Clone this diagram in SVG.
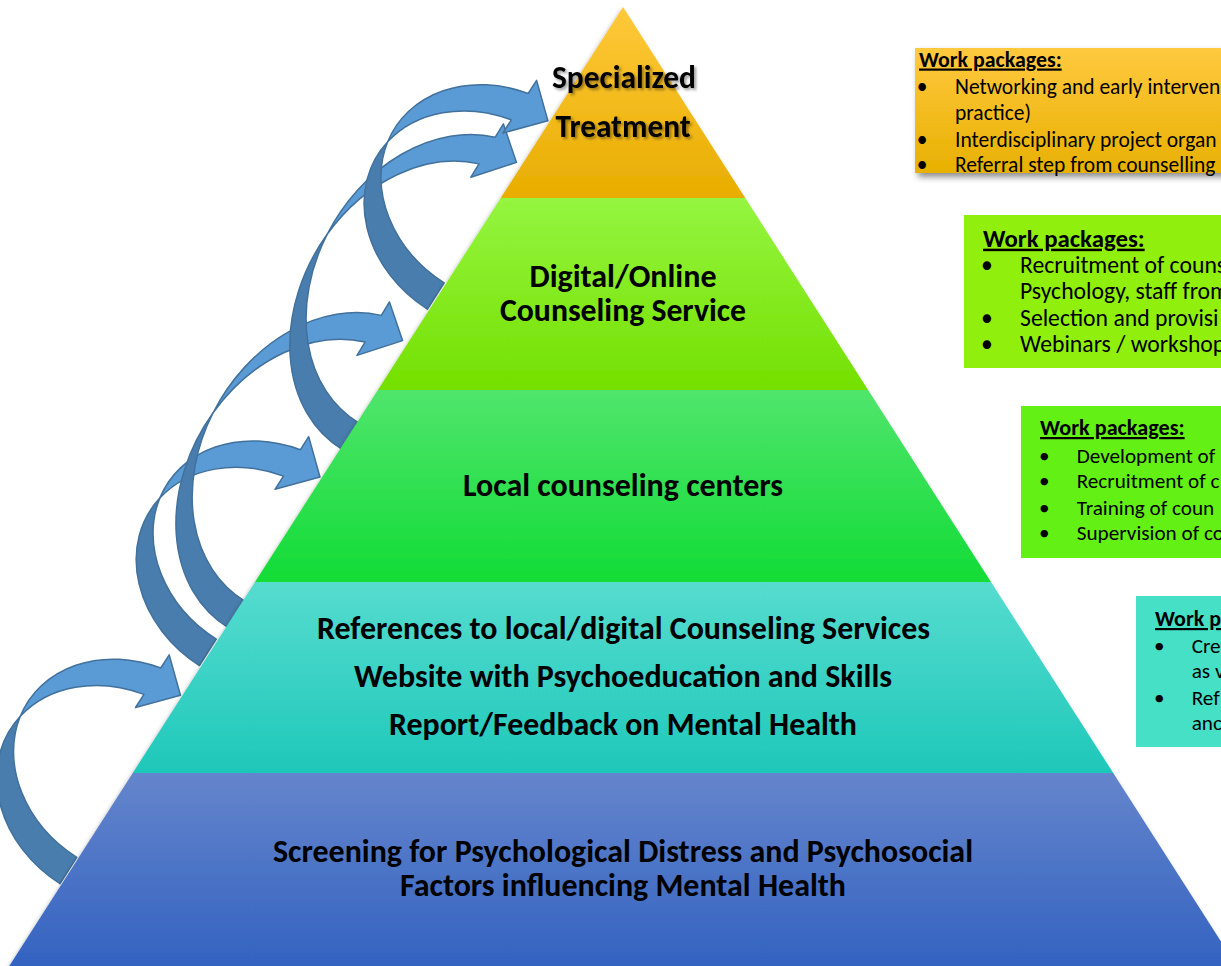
<svg xmlns="http://www.w3.org/2000/svg" xmlns:xlink="http://www.w3.org/1999/xlink" width="1221" height="966" viewBox="0 0 1221 966">
<style>
.dark{fill:#497DAD;stroke:#41719C;stroke-width:1.5;stroke-linejoin:round}
.light{fill:#5B9BD5;stroke:#41719C;stroke-width:1.5;stroke-linejoin:round}
.lvl{font-family:Carlito,Lato,sans-serif;font-weight:700;font-size:31.5px;text-anchor:middle;fill:#000}
.wp{font-family:Carlito,Lato,sans-serif;font-size:21.5px;fill:#000}
.wpt{font-weight:700;text-decoration:underline}
.bul{text-anchor:middle}
.s24{font-size:23.7px}
.s21{font-size:21.2px}
</style>
<defs>
<linearGradient id="gOr" x1="0" y1="0" x2="0" y2="1"><stop offset="0" stop-color="#FFC93A"/><stop offset="1" stop-color="#E8AD00"/></linearGradient>
<linearGradient id="gBox1" x1="0" y1="0" x2="0" y2="1"><stop offset="0" stop-color="#FFC940"/><stop offset="1" stop-color="#E8B000"/></linearGradient>
<linearGradient id="gG2" x1="0" y1="0" x2="0" y2="1"><stop offset="0" stop-color="#95F540"/><stop offset="1" stop-color="#74E000"/></linearGradient>
<linearGradient id="gG3" x1="0" y1="0" x2="0" y2="1"><stop offset="0" stop-color="#50E56C"/><stop offset="1" stop-color="#12DC36"/></linearGradient>
<linearGradient id="gTe" x1="0" y1="0" x2="0" y2="1"><stop offset="0" stop-color="#56DCCF"/><stop offset="1" stop-color="#1EC8BA"/></linearGradient>
<linearGradient id="gBl" x1="0" y1="0" x2="0" y2="1"><stop offset="0" stop-color="#6585CC"/><stop offset="1" stop-color="#3262C0"/></linearGradient>
<filter id="pyrShadow" x="-10%" y="-10%" width="120%" height="120%"><feDropShadow dx="-1" dy="2" stdDeviation="2" flood-color="#000" flood-opacity="0.3"/></filter>
<filter id="boxShadow" x="-10%" y="-20%" width="130%" height="150%"><feDropShadow dx="3" dy="4" stdDeviation="3" flood-color="#000" flood-opacity="0.45"/></filter>
<filter id="txtShadow" x="-10%" y="-30%" width="120%" height="160%"><feDropShadow dx="2" dy="2" stdDeviation="1.5" flood-color="#000" flood-opacity="0.4"/></filter>
<g id="arrS">
<path class="dark" d="M -123.58 135.31 A 125 104.06 0 0 0 0 255 L 0 223.75 A 125 104.06 0 0 1 -123.58 135.31 Z"/>
<path class="light" d="M -123.58 135.31 A 125 104.06 0 0 1 -31.25 18.93 L -31.25 3.3 L 0 31.25 L -31.25 65.8 L -31.25 50.18 A 125 104.06 0 0 0 -123.58 135.31 Z"/>
</g>
<g id="arrL">
<path class="dark" d="M -124.40 191.31 A 125 160.06 0 0 0 0 367 L 0 335.75 A 125 160.06 0 0 1 -124.40 191.31 Z"/>
<path class="light" d="M -124.40 191.31 A 125 160.06 0 0 1 -31.25 20.71 L -31.25 5.08 L 0 31.25 L -31.25 67.58 L -31.25 51.96 A 125 160.06 0 0 0 -124.40 191.31 Z"/>
</g>
</defs>
<rect width="1221" height="966" fill="#fff"/>
<g id="connectors">
<use xlink:href="#arrS" href="#arrS" transform="translate(197.3 668.9) rotate(32.6)"/>
<use xlink:href="#arrS" href="#arrS" transform="translate(336.8 450.7) rotate(32.6)"/>
<use xlink:href="#arrL" href="#arrL" transform="translate(418.8 313.9) rotate(31.3)"/>
<use xlink:href="#arrL" href="#arrL" transform="translate(532.7 135.7) rotate(31.3)"/>
<use xlink:href="#arrS" href="#arrS" transform="translate(564.7 94.4) rotate(32.6)"/>
</g>
<g id="pyramid" filter="url(#pyrShadow)">
<g id="level-specialized-treatment">
<polygon points="623,7 745.24,198 500.76,198" fill="url(#gOr)"/>
</g>
<g id="level-digital-online">
<polygon points="500.76,198 745.24,198 868.12,390 377.88,390" fill="url(#gG2)"/>
</g>
<g id="level-local-centers">
<polygon points="377.88,390 868.12,390 991,582 255,582" fill="url(#gG3)"/>
</g>
<g id="level-references">
<polygon points="255,582 991,582 1113.24,773 132.76,773" fill="url(#gTe)"/>
</g>
<g id="level-screening">
<polygon points="132.76,773 1113.24,773 1239.3,970 6.7,970" fill="url(#gBl)"/>
</g>
</g>
<g id="level-texts">
<g filter="url(#txtShadow)">
<text class="lvl" x="624" y="88" textLength="144" lengthAdjust="spacingAndGlyphs">Specialized</text>
<text class="lvl" x="623" y="137" textLength="135" lengthAdjust="spacingAndGlyphs">Treatment</text>
</g>
<text class="lvl" x="623" y="287" textLength="187" lengthAdjust="spacingAndGlyphs">Digital/Online</text>
<text class="lvl" x="623" y="321" textLength="246" lengthAdjust="spacingAndGlyphs">Counseling Service</text>
<text class="lvl" x="623" y="496" textLength="320" lengthAdjust="spacingAndGlyphs">Local counseling centers</text>
<text class="lvl" x="623.5" y="639" textLength="613" lengthAdjust="spacingAndGlyphs">References to local/digital Counseling Services</text>
<text class="lvl" x="623" y="687" textLength="538" lengthAdjust="spacingAndGlyphs">Website with Psychoeducation and Skills</text>
<text class="lvl" x="623" y="735" textLength="468" lengthAdjust="spacingAndGlyphs">Report/Feedback on Mental Health</text>
<text class="lvl" x="623" y="862" textLength="700" lengthAdjust="spacingAndGlyphs">Screening for Psychological Distress and Psychosocial</text>
<text class="lvl" x="623" y="896" textLength="446" lengthAdjust="spacingAndGlyphs">Factors influencing Mental Health</text>
</g>
<g id="wp-specialized">
<rect x="915" y="48" width="320" height="125" fill="url(#gBox1)" filter="url(#boxShadow)"/>
<text class="wp wpt" x="919" y="66.5" style="font-size:21.9px">Work packages:</text>
<text class="wp bul" x="922" y="93.5">•</text>
<text class="wp" x="955" y="93.5">Networking and early interven</text>
<text class="wp" x="955" y="120">practice)</text>
<text class="wp bul" x="922" y="146.5">•</text>
<text class="wp" x="955" y="146.5">Interdisciplinary project organ</text>
<text class="wp bul" x="922" y="172">•</text>
<text class="wp" x="955" y="172">Referral step from counselling</text>
</g>
<g id="wp-digital">
<rect x="964" y="215" width="270" height="153" fill="#90EF0C"/>
<text class="wp wpt" x="983" y="246.7" style="font-size:24.8px">Work packages:</text>
<text class="wp bul s24" x="987" y="273.3">•</text>
<text class="wp s24" x="1020" y="273.3">Recruitment of couns</text>
<text class="wp s24" x="1020" y="299.3">Psychology, staff from</text>
<text class="wp bul s24" x="987" y="326">•</text>
<text class="wp s24" x="1020" y="326">Selection and provisi</text>
<text class="wp bul s24" x="987" y="351.7">•</text>
<text class="wp s24" x="1020" y="351.7">Webinars / workshop</text>
</g>
<g id="wp-local">
<rect x="1021" y="406" width="210" height="152" fill="#63F015"/>
<text class="wp wpt" x="1040" y="435" style="font-size:22.2px">Work packages:</text>
<text class="wp bul s21" x="1044.3" y="463.3">•</text>
<text class="wp s21" x="1076.7" y="463.3">Development of</text>
<text class="wp bul s21" x="1044.3" y="488.3">•</text>
<text class="wp s21" x="1076.7" y="488.3">Recruitment of c</text>
<text class="wp bul s21" x="1044.3" y="515">•</text>
<text class="wp s21" x="1076.7" y="515">Training of coun</text>
<text class="wp bul s21" x="1044.3" y="540">•</text>
<text class="wp s21" x="1076.7" y="540">Supervision of co</text>
</g>
<g id="wp-references">
<rect x="1136" y="596" width="100" height="151" fill="#46E0C6"/>
<text class="wp wpt" x="1155" y="626" style="font-size:22px">Work p</text>
<text class="wp bul s21" x="1159.3" y="653.3">•</text>
<text class="wp s21" x="1191.7" y="653.3">Cre</text>
<text class="wp s21" x="1191.7" y="678.3">as v</text>
<text class="wp bul s21" x="1159.3" y="705">•</text>
<text class="wp s21" x="1191.7" y="705">Ref</text>
<text class="wp s21" x="1191.7" y="730">anc</text>
</g>
</svg>
